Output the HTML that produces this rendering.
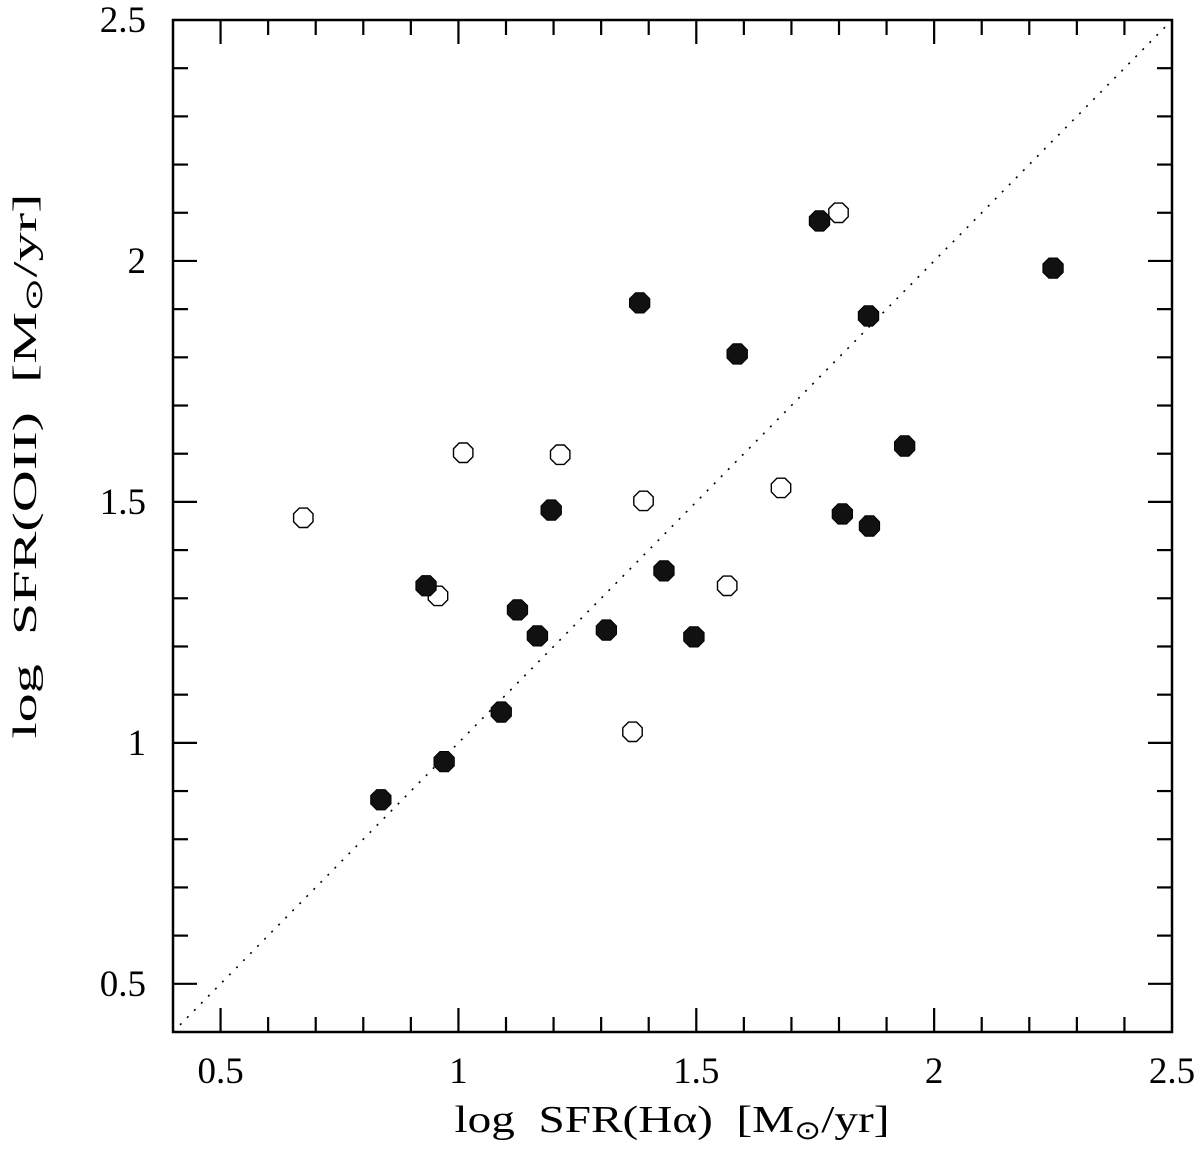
<!DOCTYPE html>
<html><head><meta charset="utf-8"><style>
body{margin:0;background:#fff}
svg text{font-family:"Liberation Serif",serif;fill:#000}
</style></head><body>
<svg id="chart" width="1200" height="1157" viewBox="0 0 1200 1157" xmlns="http://www.w3.org/2000/svg">
<g id="axes"></g>
<line id="diag" stroke="#000" stroke-width="1.6" stroke-dasharray="2,8"/>
<g id="pts"></g>
<rect x="173" y="20" width="999" height="1012" fill="none" stroke="#000" stroke-width="2.5"/>
<text x="672" y="1132" font-size="38" text-anchor="middle" textLength="435" lengthAdjust="spacingAndGlyphs" xml:space="preserve">log  SFR(Hα)  [M<tspan font-size="26" dy="7">⊙</tspan><tspan dy="-7">/yr]</tspan></text>
<text transform="translate(36,466) rotate(-90)" font-size="34" text-anchor="middle" textLength="545" lengthAdjust="spacingAndGlyphs" xml:space="preserve">log  SFR(OII)  [M<tspan font-size="24" dy="6">⊙</tspan><tspan dy="-6">/yr]</tspan></text>
</svg>
<script>
const xTicks=[0.5,1,1.5,2,2.5];
const xTickLabels=["0.5","1","1.5","2","2.5"];
const yTicks=[0.5,1,1.5,2,2.5];
const yTickLabels=["0.5","1","1.5","2","2.5"];
const filledX=[0.837,0.970,1.090,1.166,1.124,0.932,1.195,1.311,1.432,1.495,1.381,1.586,1.759,1.862,2.250,1.938,1.807,1.864];
const filledY=[0.882,0.961,1.064,1.222,1.276,1.326,1.483,1.234,1.357,1.220,1.913,1.807,2.083,1.886,1.985,1.616,1.475,1.450];
const openX=[0.674,1.010,1.214,0.957,1.389,1.678,1.565,1.366,1.799];
const openY=[1.467,1.602,1.598,1.305,1.502,1.529,1.326,1.023,2.100];
const XMIN=0.4,XMAX=2.5,YMIN=0.4,YMAX=2.5;
const L=173,R=1172,T=20,B=1032;
const sx=v=>L+(v-XMIN)/(XMAX-XMIN)*(R-L);
const sy=v=>B-(v-YMIN)/(YMAX-YMIN)*(B-T);
const NS="http://www.w3.org/2000/svg";
function mk(tag,attrs,parent){const e=document.createElementNS(NS,tag);for(const k in attrs)e.setAttribute(k,attrs[k]);parent.appendChild(e);return e;}
const axes=document.getElementById('axes');
for(let i=5;i<=25;i++){
  const v=i/10;const major=(i%5===0);const len=major?24:15;
  if(v>XMIN&&v<XMAX){
    const x=sx(v);
    const t1=mk('line',{x1:x,x2:x,y1:B,y2:B-len,stroke:'#000','stroke-width':2.2},axes);
    
    
    const t2=mk('line',{x1:x,x2:x,y1:T,y2:T+len,stroke:'#000','stroke-width':2.2},axes);
    
    
  }
  if(v>YMIN&&v<YMAX){
    const y=sy(v);
    const t3=mk('line',{x1:L,x2:L+len,y1:y,y2:y,stroke:'#000','stroke-width':2.2},axes);
    
    
    const t4=mk('line',{x1:R,x2:R-len,y1:y,y2:y,stroke:'#000','stroke-width':2.2},axes);
    
    
  }
}
xTicks.forEach((v,i)=>{
  const t=mk('text',{x:sx(v),y:1083,'font-size':37,'text-anchor':'middle'},axes);
  t.textContent=xTickLabels[i];
  
  
});
yTicks.forEach((v,i)=>{
  const t=mk('text',{x:146,y:sy(v)+12,'font-size':37,'text-anchor':'end'},axes);
  t.textContent=yTickLabels[i];
  
  
});
const d=document.getElementById('diag');
d.setAttribute('x1',sx(0.4));d.setAttribute('y1',sy(0.4));d.setAttribute('x2',sx(2.5));d.setAttribute('y2',sy(2.5));
function oct(cx,cy,r){let p=[];for(let k=0;k<8;k++){const a=Math.PI/8+k*Math.PI/4;p.push((cx+r*Math.cos(a)).toFixed(1)+','+(cy+r*Math.sin(a)).toFixed(1));}return p.join(' ');}
const pts=document.getElementById('pts');
openX.forEach((v,i)=>{
  const p=mk('polygon',{points:oct(sx(v),sy(openY[i]),10.5),fill:'#fff',stroke:'#000','stroke-width':1.4},pts);
  
  
});
filledX.forEach((v,i)=>{
  const p=mk('polygon',{points:oct(sx(v),sy(filledY[i]),11),fill:'#111',stroke:'#000','stroke-width':1},pts);
  
  
});
</script>
</body></html>
